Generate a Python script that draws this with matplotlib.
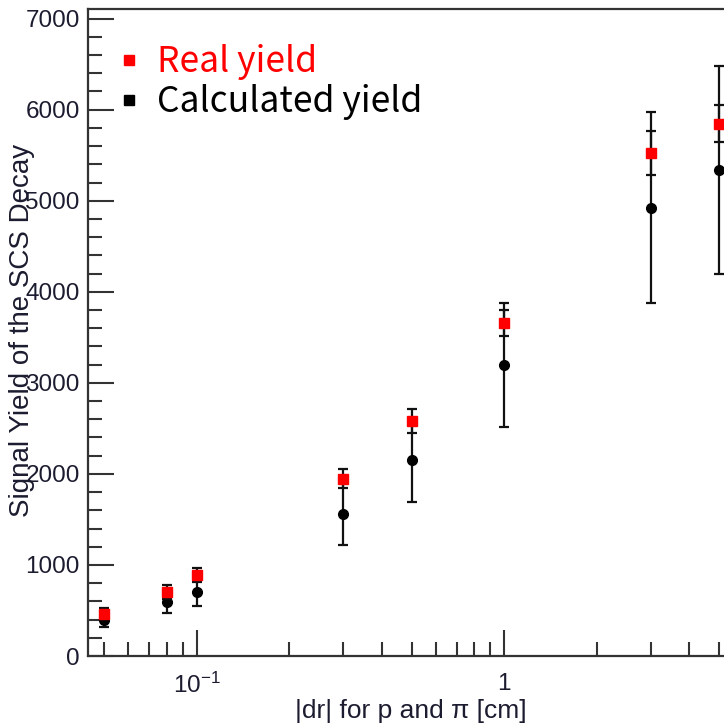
import matplotlib.pyplot as plt
from matplotlib.lines import Line2D
from matplotlib.ticker import FixedLocator, NullFormatter, MultipleLocator

# -----------------------------
# data: cut on |dr| vs signal yield
# -----------------------------
dr_cut = [0.05, 0.08, 0.1, 0.3, 0.5, 1, 3, 5]

real_yield = [465, 705, 890, 1945, 2580, 3660, 5525, 5847]
real_err   = [60, 75, 80, 105, 130, 145, 240, 200]

calc_yield = [395, 590, 700, 1555, 2151, 3194, 4925, 5335]
calc_err   = [75, 120, 150, 340, 457, 680, 1050, 1140]

x_major = [0.1, 1]
x_major_labels = [r"$\mathregular{10^{-1}}$", "1"]
x_minor = [0.05, 0.06, 0.07, 0.08, 0.09, 0.2, 0.3, 0.4, 0.5, 0.6, 0.7, 0.8, 0.9, 2, 3, 4, 5]

axis_col = "#333333"
label_col = "#1c1c30"

plt.rcParams["mathtext.fontset"] = "custom"
plt.rcParams["mathtext.rm"] = "Liberation Sans"

fig = plt.figure(figsize=(7.24, 7.24), dpi=100)
# axes runs a bit past the right edge of the canvas
ax = fig.add_axes([0.1215, 0.0939, 0.9056, 0.893])

ax.errorbar(dr_cut, calc_yield, yerr=calc_err, fmt="o", color="black",
            ms=7, ecolor="#111111", elinewidth=1.6, capsize=3.5, capthick=1.6, zorder=3)
ax.errorbar(dr_cut, real_yield, yerr=real_err, fmt="s", color="red", mec="red",
            ms=7, ecolor="#111111", elinewidth=1.6, capsize=3.5, capthick=1.6, zorder=4)

ax.set_xscale("log")
ax.set_xlim(0.0443, 6.0)
ax.set_ylim(0, 7100)

ax.xaxis.set_major_locator(FixedLocator(x_major))
ax.set_xticks(x_major, x_major_labels)
ax.xaxis.set_minor_locator(FixedLocator(x_minor))
ax.xaxis.set_minor_formatter(NullFormatter())
ax.yaxis.set_major_locator(MultipleLocator(1000))
ax.yaxis.set_minor_locator(MultipleLocator(200))

ax.tick_params(axis="both", which="major", direction="in", length=19, width=1.5,
               color=axis_col, labelsize=17.5, labelcolor=label_col, pad=6)
ax.tick_params(axis="both", which="minor", direction="in", length=10, width=1.5,
               color=axis_col)
ax.tick_params(axis="x", which="major", pad=12)
ax.tick_params(top=False, right=False)
for lab in ax.get_xticklabels() + ax.get_yticklabels():
    lab.set_family("Liberation Sans")

for side in ["left", "bottom", "top"]:
    ax.spines[side].set_color(axis_col)
    ax.spines[side].set_linewidth(1.6)
ax.spines["right"].set_visible(False)

fig.text(411 / 724, 1 - 711 / 724, "|dr| for p and \u03c0 [cm]", fontsize=19,
         family="Liberation Sans", color=label_col, ha="center", va="center")
fig.text(22 / 724, 1 - 330 / 724, "Signal Yield of the SCS Decay", fontsize=20,
         family="Liberation Sans", color=label_col, rotation=90,
         ha="center", va="center")

handles = [
    Line2D([], [], ls="none", marker="s", color="red", ms=7),
    Line2D([], [], ls="none", marker="s", color="black", ms=7),
]
leg = ax.legend(handles, ["Real yield", "Calculated yield"], loc="upper left",
                bbox_to_anchor=(120 / 724, 1 - 44 / 724), bbox_transform=fig.transFigure,
                frameon=False, handlelength=0.5, handletextpad=0.55, labelspacing=0.12,
                prop={"family": "Noto Sans CJK KR", "size": 25.5},
                labelcolor=["red", "black"], borderaxespad=0, borderpad=0)

fig.savefig("out.png", dpi=100)
